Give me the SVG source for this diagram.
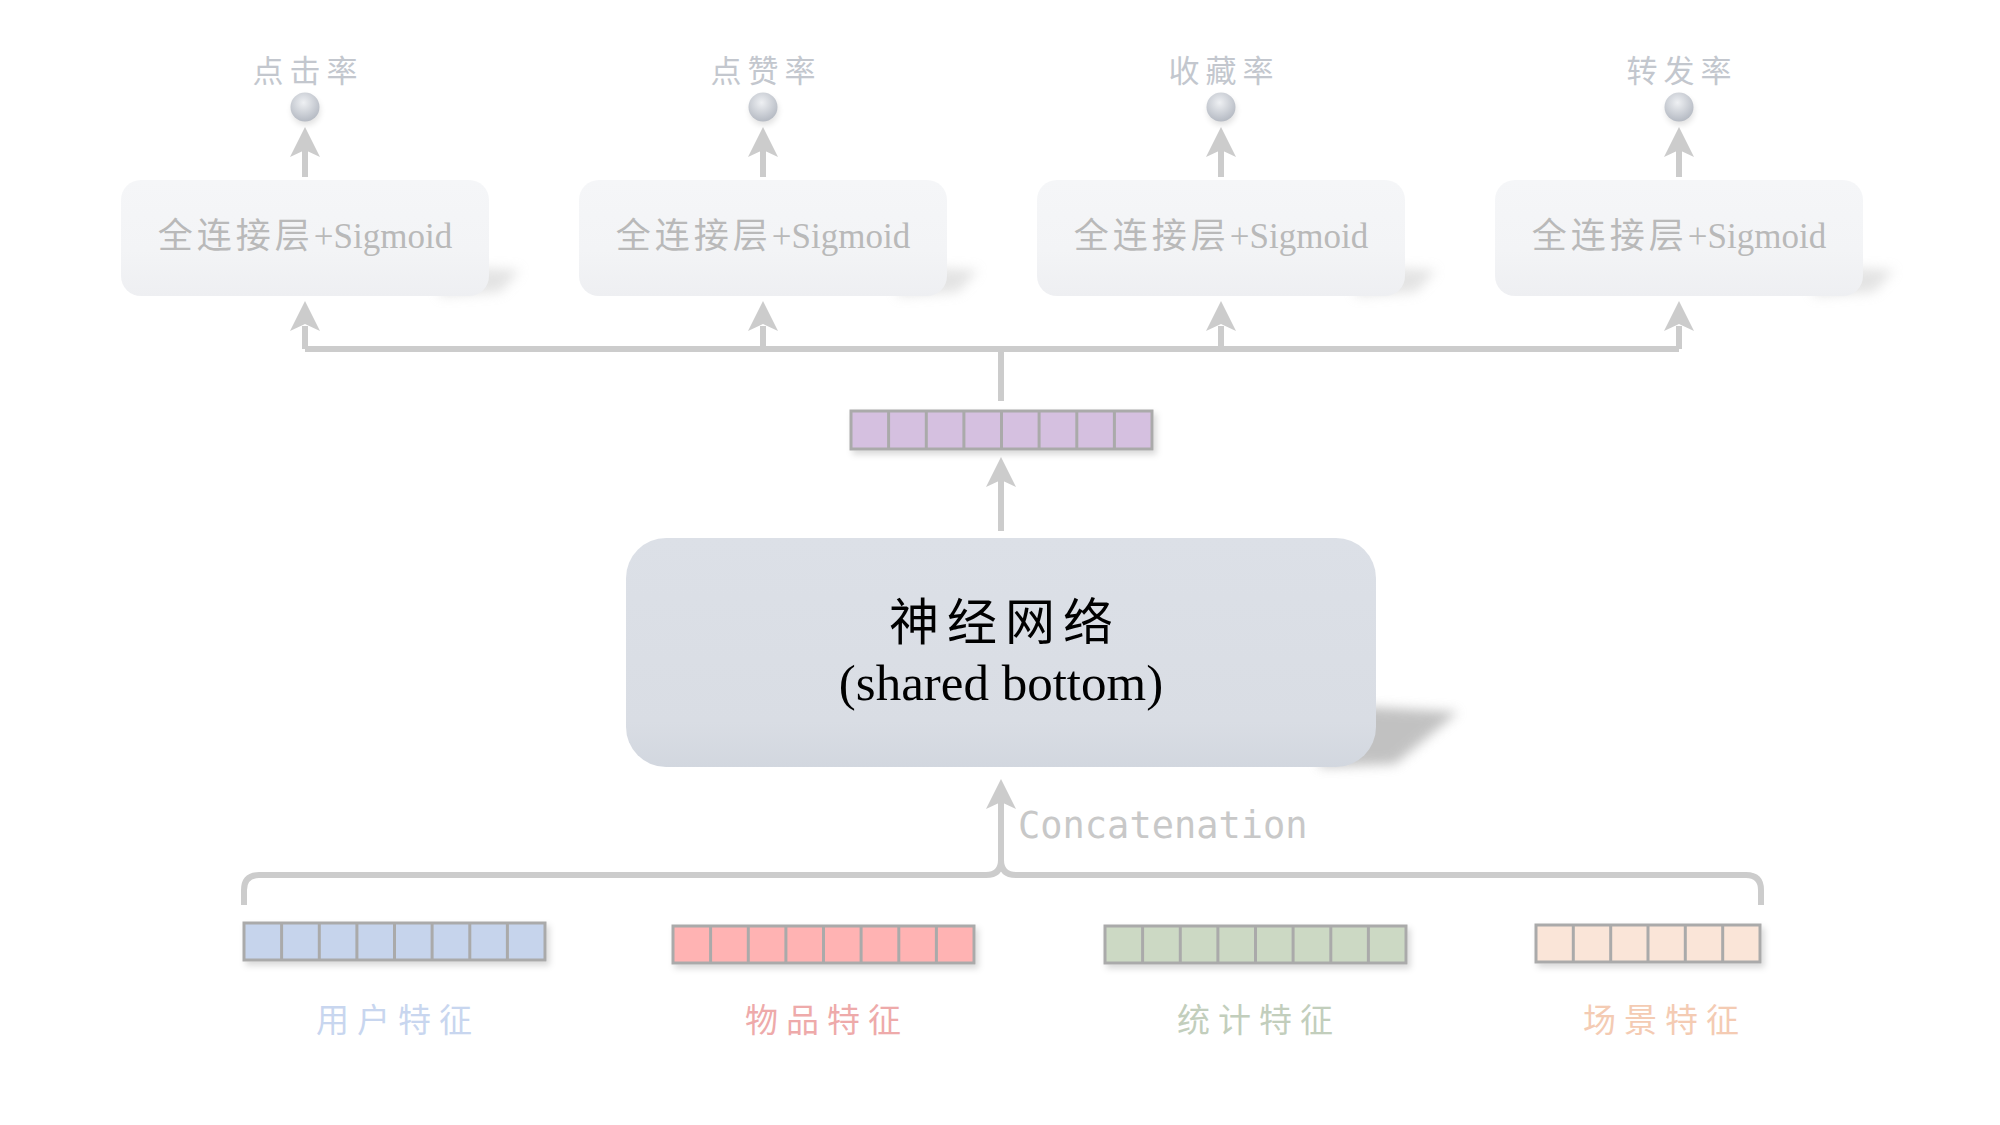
<svg xmlns="http://www.w3.org/2000/svg" width="2000" height="1125" viewBox="0 0 2000 1125">
<style>
.conn{fill:none;stroke:#cccccc;stroke-width:6}
.head{fill:#cccccc}
.box{fill:url(#boxg)}
.btxt{font-family:"Liberation Serif","Noto Sans CJK SC",serif;font-size:35px;fill:#b9b9b9;text-anchor:middle}
.olab{font-family:"Noto Sans CJK SC",sans-serif;font-size:31px;fill:#c3c7ce;text-anchor:middle;letter-spacing:6px}
.flab{font-family:"Noto Sans CJK SC",sans-serif;font-size:33px;text-anchor:middle;letter-spacing:8px}
.cell{stroke:#aaaaaa;stroke-width:3}
</style>
<defs>
<linearGradient id="boxg" x1="0" y1="0" x2="0" y2="1"><stop offset="0" stop-color="#f5f6f8"/><stop offset="0.6" stop-color="#f3f4f6"/><stop offset="1" stop-color="#eeeff2"/></linearGradient>
<linearGradient id="maing" x1="0" y1="0" x2="0" y2="1"><stop offset="0" stop-color="#dce0e7"/><stop offset="0.8" stop-color="#d9dde4"/><stop offset="1" stop-color="#d2d7df"/></linearGradient>
<radialGradient id="ball" cx="0.45" cy="0.35" r="0.65"><stop offset="0" stop-color="#eef0f3"/><stop offset="1" stop-color="#b5bac3"/></radialGradient>
<filter id="blur6" x="-50%" y="-50%" width="200%" height="200%"><feGaussianBlur stdDeviation="6"/></filter>
<filter id="blur3" x="-50%" y="-50%" width="200%" height="200%"><feGaussianBlur stdDeviation="3"/></filter>
<filter id="vsh" x="-10%" y="-30%" width="120%" height="180%"><feDropShadow dx="3" dy="4" stdDeviation="3" flood-color="#000" flood-opacity="0.15"/></filter>
<g id="tophead"><polygon points="0,0 -15,30 0,23 15,30"/></g>
</defs>
<rect width="2000" height="1125" fill="#ffffff"/>

<g id="connectors">
<path class="conn" d="M305 349 V326 M763 349 V326 M1221 349 V326 M1679 349 V326 M305 349 H1679 M1001 349 V401"/>
<use href="#tophead" x="305" y="301" class="head"/>
<use href="#tophead" x="763" y="301" class="head"/>
<use href="#tophead" x="1221" y="301" class="head"/>
<use href="#tophead" x="1679" y="301" class="head"/>
<path class="conn" d="M305 177 V150 M763 177 V150 M1221 177 V150 M1679 177 V150"/>
<use href="#tophead" x="305" y="127" class="head"/>
<use href="#tophead" x="763" y="127" class="head"/>
<use href="#tophead" x="1221" y="127" class="head"/>
<use href="#tophead" x="1679" y="127" class="head"/>
<path class="conn" d="M1001 531 V480"/>
<use href="#tophead" x="1001" y="457" class="head"/>
<path class="conn" d="M244 905 V890 Q244 875 259 875 H986 Q1001 875 1001 860 Q1001 875 1016 875 H1746 Q1761 875 1761 890 V905 M1001 860 V802"/>
<use href="#tophead" x="1001" y="779" class="head"/>
<text x="1018" y="838" font-family="DejaVu Sans Mono,monospace" font-size="37" fill="#c8c8c8">Concatenation</text>
</g>

<g id="fc1">
<polygon points="440,266 520,270 500,292 440,296" fill="#c8c8c8" opacity="0.5" filter="url(#blur6)"/>
<rect class="box" x="121" y="180" width="368" height="116" rx="20"/>
<text class="btxt" x="305" y="248"><tspan letter-spacing="4">全连接层</tspan>+Sigmoid</text>
</g>
<g id="fc2">
<polygon points="898,266 978,270 958,292 898,296" fill="#c8c8c8" opacity="0.5" filter="url(#blur6)"/>
<rect class="box" x="579" y="180" width="368" height="116" rx="20"/>
<text class="btxt" x="763" y="248"><tspan letter-spacing="4">全连接层</tspan>+Sigmoid</text>
</g>
<g id="fc3">
<polygon points="1356,266 1436,270 1416,292 1356,296" fill="#c8c8c8" opacity="0.5" filter="url(#blur6)"/>
<rect class="box" x="1037" y="180" width="368" height="116" rx="20"/>
<text class="btxt" x="1221" y="248"><tspan letter-spacing="4">全连接层</tspan>+Sigmoid</text>
</g>
<g id="fc4">
<polygon points="1814,266 1894,270 1874,292 1814,296" fill="#c8c8c8" opacity="0.5" filter="url(#blur6)"/>
<rect class="box" x="1495" y="180" width="368" height="116" rx="20"/>
<text class="btxt" x="1679" y="248"><tspan letter-spacing="4">全连接层</tspan>+Sigmoid</text>
</g>

<g id="out1"><circle cx="306" cy="111" r="14" fill="#000" opacity="0.12" filter="url(#blur3)"/><circle cx="305" cy="107" r="14.5" fill="url(#ball)"/><text class="olab" x="308" y="82">点击率</text></g>
<g id="out2"><circle cx="764" cy="111" r="14" fill="#000" opacity="0.12" filter="url(#blur3)"/><circle cx="763" cy="107" r="14.5" fill="url(#ball)"/><text class="olab" x="766" y="82">点赞率</text></g>
<g id="out3"><circle cx="1222" cy="111" r="14" fill="#000" opacity="0.12" filter="url(#blur3)"/><circle cx="1221" cy="107" r="14.5" fill="url(#ball)"/><text class="olab" x="1224" y="82">收藏率</text></g>
<g id="out4"><circle cx="1680" cy="111" r="14" fill="#000" opacity="0.12" filter="url(#blur3)"/><circle cx="1679" cy="107" r="14.5" fill="url(#ball)"/><text class="olab" x="1682" y="82">转发率</text></g>

<g id="shared">
<g filter="url(#vsh)">
<rect x="851" y="411" width="301" height="38" fill="#d5c0e0" class="cell"/>
</g>
<path d="M888.6 411 V449 M926.3 411 V449 M963.9 411 V449 M1001.5 411 V449 M1039.1 411 V449 M1076.8 411 V449 M1114.4 411 V449" class="cell"/>
</g>

<g id="bottom">
<polygon points="1320,704 1458,712 1395,764 1320,767" fill="#999" opacity="0.6" filter="url(#blur6)"/>
<rect x="626" y="538" width="750" height="229" rx="40" fill="url(#maing)"/>
<text x="1005" y="640" font-family="Noto Sans CJK SC,sans-serif" font-size="50" fill="#000" text-anchor="middle" letter-spacing="8">神经网络</text>
<text x="1001" y="700" font-family="Liberation Serif,serif" font-size="51" fill="#000" text-anchor="middle">(shared bottom)</text>
</g>

<g id="user">
<g filter="url(#vsh)"><rect x="244" y="923" width="301" height="37" fill="#c6d4ec" class="cell"/></g>
<path d="M281.6 923 V960 M319.3 923 V960 M356.9 923 V960 M394.5 923 V960 M432.1 923 V960 M469.8 923 V960 M507.4 923 V960" class="cell"/>
<text class="flab" x="398" y="1032" fill="#c8d6ef">用户特征</text>
</g>
<g id="item">
<g filter="url(#vsh)"><rect x="673" y="926" width="301" height="37" fill="#ffb3b3" class="cell"/></g>
<path d="M710.6 926 V963 M748.3 926 V963 M785.9 926 V963 M823.5 926 V963 M861.1 926 V963 M898.8 926 V963 M936.4 926 V963" class="cell"/>
<text class="flab" x="827" y="1032" fill="#eeaaaa">物品特征</text>
</g>
<g id="stat">
<g filter="url(#vsh)"><rect x="1105" y="926" width="301" height="37" fill="#ccd9c4" class="cell"/></g>
<path d="M1142.6 926 V963 M1180.3 926 V963 M1217.9 926 V963 M1255.5 926 V963 M1293.1 926 V963 M1330.8 926 V963 M1368.4 926 V963" class="cell"/>
<text class="flab" x="1259" y="1032" fill="#c2cebc">统计特征</text>
</g>
<g id="scene">
<g filter="url(#vsh)"><rect x="1536" y="925" width="224" height="37" fill="#fae5d8" class="cell"/></g>
<path d="M1573.3 925 V962 M1610.7 925 V962 M1648 925 V962 M1685.3 925 V962 M1722.7 925 V962" class="cell"/>
<text class="flab" x="1665" y="1032" fill="#f4cbb3">场景特征</text>
</g>
</svg>
